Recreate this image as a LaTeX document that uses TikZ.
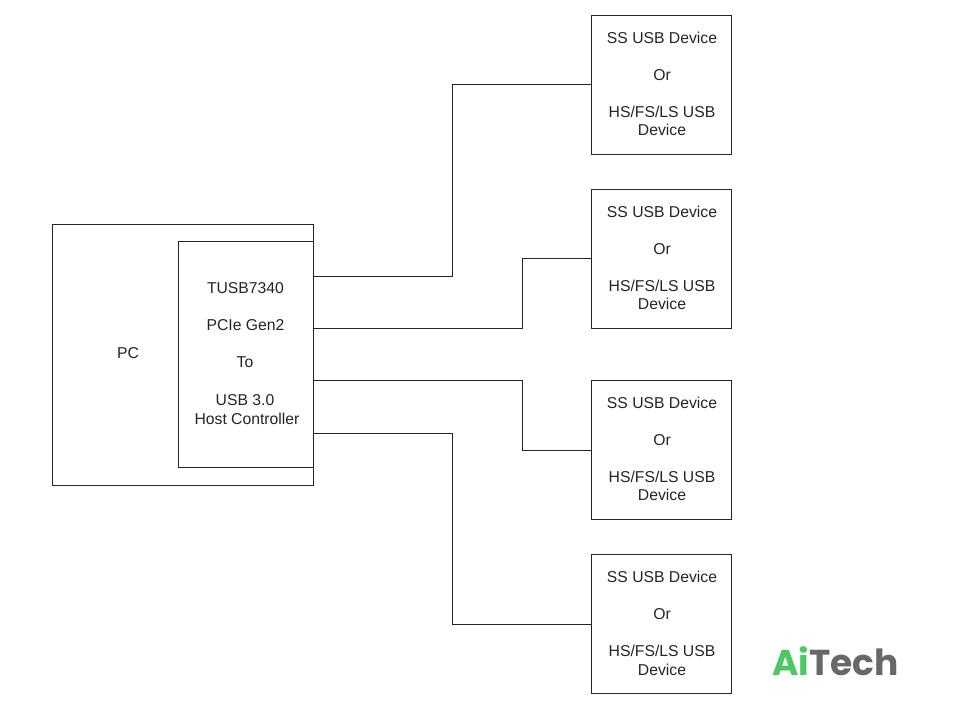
\documentclass[tikz,border=0pt]{standalone}
\usepackage{fontspec}
\setmainfont{Liberation Sans}
\newfontfamily\logofont{Poppins}
\usetikzlibrary{positioning}
\definecolor{aigreen}{HTML}{4CC764}
\definecolor{techgray}{HTML}{66686B}
\definecolor{linegray}{HTML}{222428}
\newlength{\pxu}
\setlength{\pxu}{0.75pt}
\tikzset{
  devbox/.style={draw=linegray,line width=0.75pt,minimum width=140\pxu,minimum height=139\pxu,inner sep=0pt},
  hostbox/.style={draw=linegray,line width=0.75pt,inner sep=0pt},
  txt/.style={inner sep=0pt,text=linegray,font=\fontsize{11.8pt}{13pt}\selectfont,align=center},
  wire/.style={draw=linegray,line width=0.75pt}
}
\begin{document}
\begin{tikzpicture}[x=0.75pt,y=-0.75pt]
    \useasboundingbox (0,0) rectangle (964,720);

    % host side
    \node[hostbox,minimum width=261\pxu,minimum height=261\pxu] (pc) at (182.7,354.7) {};
    \node[hostbox,minimum width=135\pxu,minimum height=226\pxu] (ctrl) at (245.7,354.2) {};
    \node[txt] (pclabel) at (128,353.5) {PC};
    \node[txt] (l1) at (245.5,288.5) {TUSB7340};
    \node[txt] (l2) at (245.5,325.5) {PCIe Gen2};
    \node[txt] (l3) at (245,362.5) {To};
    \node[txt] (l4) at (245,400.5) {USB 3.0};
    \node[txt] (l5) at (247,419) {Host Controller};

    % device boxes
    \foreach \name/\cy in {a/84.8,b/258.8,c/450,d/624.3} {
      \node[devbox] (\name) at (661,\cy) {};
      \node[txt] (\name1) at (662,\cy-47) {SS USB Device};
      \node[txt] (\name2) at (662,\cy-10) {Or};
      \node[txt] (\name3) at (662,\cy+26.7) {HS/FS/LS USB};
      \node[txt] (\name4) at (662,\cy+45.2) {Device};
    }

    % free ends on the controller
    \coordinate (p1) at (ctrl.east |- 0,276.2);
    \coordinate (p2) at (ctrl.east |- 0,328.2);
    \coordinate (p3) at (ctrl.east |- 0,380.2);
    \coordinate (p4) at (ctrl.east |- 0,433);

    \draw[wire] (p1) -| (452,84.8) -- (a.west);
    \draw[wire] (p2) -| (522,258.8) -- (b.west);
    \draw[wire] (p3) -| (522,450) -- (c.west);
    \draw[wire] (p4) -| (452,624.3) -- (d.west);

    % logo
    \node[inner sep=0pt,anchor=west,font=\logofont\bfseries\fontsize{27pt}{28pt}\selectfont] (logo) at (772,661)
      {\textcolor{aigreen}{Ai}\textcolor{techgray}{Tech}};
\end{tikzpicture}
\end{document}
